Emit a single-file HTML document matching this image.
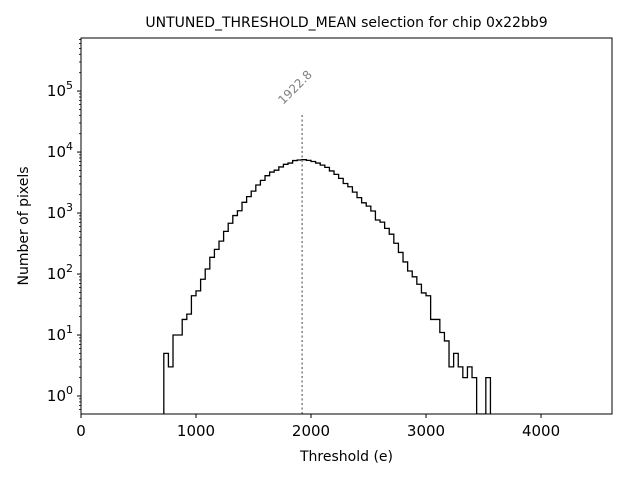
<!DOCTYPE html>
<html><head><meta charset="utf-8"><style>
body{margin:0;background:#fff;font-family:"DejaVu Sans","Liberation Sans",sans-serif}
</style></head><body>
<svg id="chart" width="640" height="480" xmlns="http://www.w3.org/2000/svg"></svg>
<script>
const binStart = 720;
const binWidth = 40;
const counts = [5,3,10,10,18,22,44,53,82,121,188,254,346,500,680,910,1090,1500,1860,2290,2880,3430,4100,4700,5040,5700,6300,6600,7250,7400,7500,
7300,7000,6600,6100,5600,4900,4300,3700,3050,2700,2200,1790,1470,1300,1080,770,710,560,450,320,226,158,112,90,68,49,44,18,18,11,8,3,5,3,2,3,2,0,0,2];
const meanValue = 1922.8;
const xTicks = [0,1000,2000,3000,4000];
const yTickExps = [0,1,2,3,4,5];

const NS="http://www.w3.org/2000/svg";
const svg=document.getElementById('chart');
const L=81,R=612,T=38,B=414;
const xMax=4617, yMinE=-0.295, yMaxE=5.87;
const X=v=>L+(v/xMax)*(R-L);
const Y=v=>{ if(v<=0) return B; const e=Math.log10(v); return B-(e-yMinE)/(yMaxE-yMinE)*(B-T); };
function el(tag,attrs,parent){const e=document.createElementNS(NS,tag);for(const k in attrs)e.setAttribute(k,attrs[k]);(parent||svg).appendChild(e);return e;}

let d=`M${X(binStart)},${B}`;
counts.forEach((c,i)=>{const x0=X(binStart+i*binWidth),x1=X(binStart+(i+1)*binWidth),y=Y(c);d+=` L${x0},${y} L${x1},${y}`;});
d+=` L${X(binStart+counts.length*binWidth)},${B}`;
const clip=el('clipPath',{id:'pc'});el('rect',{x:L,y:T,width:R-L,height:B-T},clip);
const hist=el('path',{d:d,fill:'none',stroke:'#000','stroke-width':1.3,'clip-path':'url(#pc)'});



const ml=el('line',{x1:X(meanValue),x2:X(meanValue),y1:B,y2:Y(Math.pow(10,4.64)),stroke:'#808080','stroke-width':1.5,'stroke-dasharray':'2,2.5'});


const mt=el('text',{x:0,y:0,'font-size':12,fill:'#808080',transform:`translate(${X(meanValue)-19},${Y(Math.pow(10,4.64))-8}) rotate(-45)`});
mt.textContent=meanValue.toFixed(1);



const fr=el('rect',{x:L,y:T,width:R-L,height:B-T,fill:'none',stroke:'#000','stroke-width':1});



xTicks.forEach(v=>{const x=X(v);el('line',{x1:x,x2:x,y1:B,y2:B+4,stroke:'#000'});
const t=el('text',{x:x,y:B+22,'font-size':15,'text-anchor':'middle'});t.textContent=v;

});

yTickExps.forEach(e=>{const y=Y(Math.pow(10,e));el('line',{x1:L,x2:L-4,y1:y,y2:y,stroke:'#000'});
const t=el('text',{x:L-8,y:y+5,'font-size':15,'text-anchor':'end'});
t.innerHTML=`10<tspan dy="-7" font-size="11">${e}</tspan>`;

});
for(let e=-1;e<=5;e++)for(let m=2;m<=9;m++){const v=m*Math.pow(10,e);const y=Y(v);if(y<T||y>B)continue;el('line',{x1:L,x2:L-2,y1:y,y2:y,stroke:'#000','stroke-width':0.8});}

const title=el('text',{x:(L+R)/2,y:27,'font-size':14,'text-anchor':'middle'});title.textContent='UNTUNED_THRESHOLD_MEAN selection for chip 0x22bb9';


const xl=el('text',{x:(L+R)/2,y:461,'font-size':14,'text-anchor':'middle'});xl.textContent='Threshold (e)';


const yl=el('text',{x:0,y:0,'font-size':14,'text-anchor':'middle',transform:`translate(28,${(T+B)/2}) rotate(-90)`});yl.textContent='Number of pixels';


</script>
</body></html>
